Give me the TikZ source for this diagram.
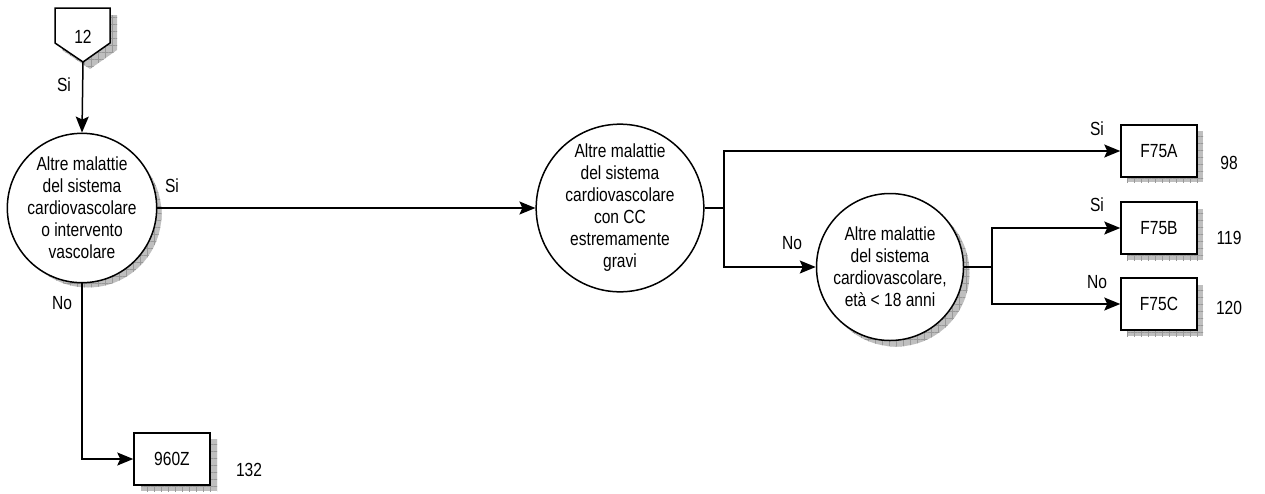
\documentclass[tikz,border=0pt]{standalone}
\usepackage{fontspec}
\setmainfont{Liberation Sans}[FakeStretch=0.82]
\usetikzlibrary{arrows.meta,patterns.meta}
\begin{document}
\begin{tikzpicture}[x=1pt,y=-1pt,
  every node/.style={font=\fontsize{19}{22}\selectfont, inner sep=0pt},
  line/.style={line width=1.5pt},
  arr/.style={line width=1.5pt,-{Stealth[length=16pt,width=13pt,inset=3pt]}},
  decision/.style={circle, draw, line width=1.5pt, fill=white, minimum size=147pt, align=center},
  endbox/.style={rectangle, draw, line width=1.5pt, fill=white, minimum width=76pt, minimum height=52pt},
  shade/.style={fill=gray!50, draw=none,
    postaction={pattern={Lines[distance=7pt,angle=0,line width=0.5pt]}, pattern color=gray!80},
    postaction={pattern={Lines[distance=7pt,angle=90,line width=0.5pt]}, pattern color=gray!80}},
  lbl/.style={}]
\useasboundingbox (0,0) rectangle (1265,493);
% shadows
\path[shade] (62,15) -- (117,15) -- (117,50) -- (90,69) -- (62,50) -- cycle;
\path[shade] (88,214) circle[radius=73.5];
\path[shade] (626,214) circle[radius=73.5];
\path[shade] (896,273) circle[radius=73.5];
\path[shade] (1127,131) rectangle (1203,182);
\path[shade] (1127,209) rectangle (1203,260);
\path[shade] (1127,285) rectangle (1203,336);
\path[shade] (141,439) rectangle (217,491);
% off-page connector
\draw[line, fill=white] (55,8) -- (110,8) -- (110,43) -- (83,62) -- (55,43) -- cycle;
\node (t12) at (83,37) {12};
\coordinate (c12tip) at (83,62);
% decisions
\node[decision] (c1) at (82,208) {Altre malattie\\del sistema\\cardiovascolare\\o intervento\\vascolare};
\node[decision] (c2) at (620,208) {Altre malattie\\del sistema\\cardiovascolare\\con CC\\estremamente\\gravi};
\node[decision] (c3) at (890,267) {Altre malattie\\del sistema\\cardiovascolare,\\età < 18 anni};
% end boxes
\node[endbox] (bA) at (1159,151) {F75A};
\node[endbox] (bB) at (1159,228) {F75B};
\node[endbox] (bC) at (1159,304) {F75C};
\node[endbox] (bZ) at (172,459) {960Z};
% connectors
\draw[arr] (c12tip) -- (c1.north);
\draw[arr] (c1.east) -- (c2.west);
\coordinate (j1) at (724,208);
\draw[line] (c2.east) -- (j1);
\draw[arr] (j1) |- (bA.west);
\draw[arr] (j1) |- (c3.west);
\coordinate (j2) at (992,267);
\draw[line] (c3.east) -- (j2);
\draw[arr] (j2) |- (bB.west);
\draw[arr] (j2) |- (bC.west);
\draw[arr] (c1.south) |- (bZ.west);
% labels
\node[lbl] (l1) at (64,85) {Si};
\node[lbl] (l2) at (172,186) {Si};
\node[lbl] (l3) at (62,303) {No};
\node[lbl] (l4) at (792,243) {No};
\node[lbl] (l5) at (1097,129) {Si};
\node[lbl] (l6) at (1097,205) {Si};
\node[lbl] (l7) at (1097,282) {No};
\node[lbl] (n98) at (1229,163) {98};
\node[lbl] (n119) at (1229,238) {119};
\node[lbl] (n120) at (1229,308) {120};
\node[lbl] (n132) at (249,470) {132};
\end{tikzpicture}
\end{document}
